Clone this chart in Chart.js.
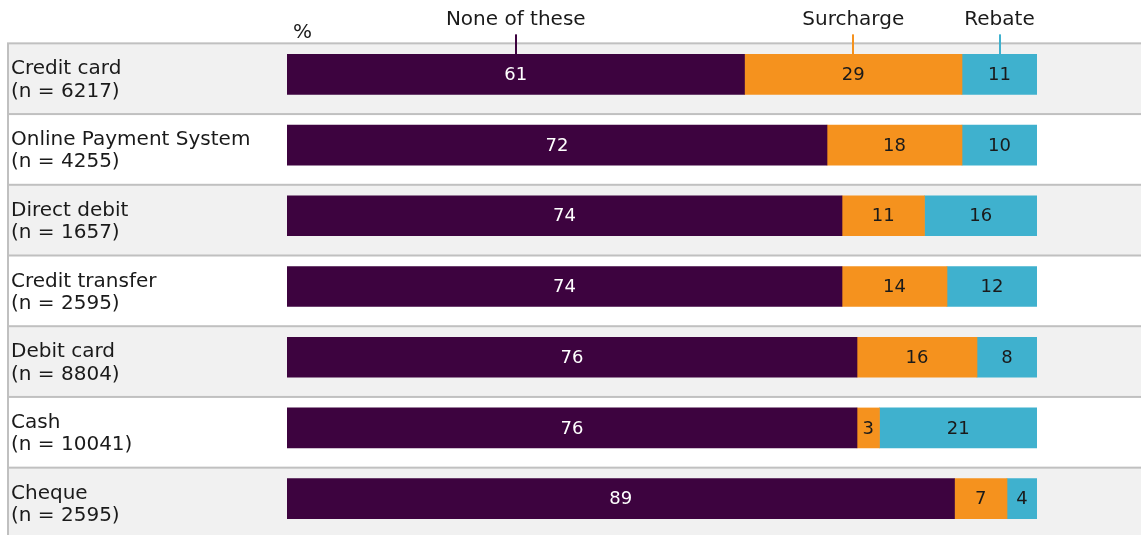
<!DOCTYPE html>
<html>
<head>
<meta charset="utf-8">
<script src="https://cdn.jsdelivr.net/npm/chart.js@4"></script>
<style>
  html, body { margin: 0; padding: 0; background: #fff; }
  #wrap { width: 1141px; height: 535px; position: relative; }
</style>
</head>
<body>
<div id="wrap"><canvas id="chart"></canvas></div>
<script>
const categories = ['Credit card', 'Online Payment System', 'Direct debit', 'Credit transfer', 'Debit card', 'Cash', 'Cheque'];
const sampleSizes = [6217, 4255, 1657, 2595, 8804, 10041, 2595];
const noneOfThese = [61, 72, 74, 74, 76, 76, 89];
const surcharge = [29, 18, 11, 14, 16, 3, 7];
const rebate = [11, 10, 16, 12, 8, 21, 4];

const seriesNames = ['None of these', 'Surcharge', 'Rebate'];
const seriesColors = ['#3d033f', '#f5921e', '#3fb1ce'];
const valueColors = ['#ffffff', '#1a1a1a', '#1a1a1a'];

const FONT = '"DejaVu Sans", Verdana, sans-serif';
const LINE = '#c0c0c0';
const BAND = '#f1f1f1';

// two-line axis labels: name and sample size
const labels = categories.map((c, i) => [c, '(n = ' + sampleSizes[i] + ')']);

// alternating row shading, row separators and the left rule
const rowBands = {
  id: 'rowBands',
  beforeDraw(chart) {
    const {ctx, width, height} = chart;
    const y = chart.scales.y;
    const rowH = y.getPixelForValue(1) - y.getPixelForValue(0);
    ctx.save();
    ctx.fillStyle = '#fff';
    ctx.fillRect(0, 0, width, height);
    labels.forEach((_, i) => {
      const top = y.getPixelForValue(i) - 31;
      if (i % 2 === 0) {
        ctx.fillStyle = BAND;
        ctx.fillRect(9, top, width - 9, rowH);
      }
      ctx.fillStyle = LINE;
      ctx.fillRect(7, top - 1, width - 7, 2);
    });
    const firstTop = y.getPixelForValue(0) - 31;
    ctx.fillRect(7, firstTop, 2, height - firstTop);
    ctx.restore();
  }
};

// values inside segments, series names above the first bar, "%" marker
const barText = {
  id: 'barText',
  afterDatasetsDraw(chart) {
    const {ctx, chartArea} = chart;
    ctx.save();
    ctx.textAlign = 'center';
    ctx.textBaseline = 'middle';
    chart.data.datasets.forEach((ds, di) => {
      const meta = chart.getDatasetMeta(di);
      meta.data.forEach((bar, i) => {
        const left = Math.min(bar.base, chartArea.right);
        const right = Math.min(bar.x, chartArea.right);
        const cx = (left + right) / 2;
        ctx.font = '18px ' + FONT;
        ctx.fillStyle = valueColors[di];
        ctx.fillText(String(ds.data[i]), cx, bar.y + 1);

        if (i === 0) {
          const top = bar.y - bar.height / 2;
          ctx.fillStyle = seriesColors[di];
          ctx.fillRect(Math.round(cx) - 1, top - 20, 2, 20);
          ctx.font = '20px ' + FONT;
          ctx.fillStyle = '#1a1a1a';
          ctx.textBaseline = 'alphabetic';
          ctx.fillText(seriesNames[di], cx, 25);
          ctx.textBaseline = 'middle';
        }
      });
    });
    ctx.font = '20px ' + FONT;
    ctx.fillStyle = '#1a1a1a';
    ctx.textAlign = 'left';
    ctx.textBaseline = 'alphabetic';
    ctx.fillText('%', chartArea.left + 6, 38);
    ctx.restore();
  }
};

const series = [noneOfThese, surcharge, rebate];

new Chart(document.getElementById('chart'), {
  type: 'bar',
  data: {
    labels,
    datasets: series.map((values, i) => ({
      label: seriesNames[i],
      data: values,
      backgroundColor: seriesColors[i],
      borderWidth: 0,
      barThickness: 40,
      clip: 0
    }))
  },
  options: {
    indexAxis: 'y',
    responsive: true,
    maintainAspectRatio: false,
    animation: false,
    layout: {padding: {left: 11, right: 104, top: 39, bottom: 1}},
    plugins: {
      legend: {display: false},
      tooltip: {enabled: false}
    },
    scales: {
      x: {stacked: true, min: 0, max: 100, display: false},
      y: {
        stacked: true,
        grid: {display: false},
        border: {display: false},
        ticks: {
          crossAlign: 'far',
          padding: 0,
          labelOffset: 6,
          color: '#1a1a1a',
          font: {family: FONT, size: 20, lineHeight: 1.12}
        },
        afterFit(scale) {
          scale.width = 276;
          scale.paddingTop = 0;
          scale.paddingBottom = 0;
        }
      }
    }
  },
  plugins: [rowBands, barText]
});
</script>
</body>
</html>
